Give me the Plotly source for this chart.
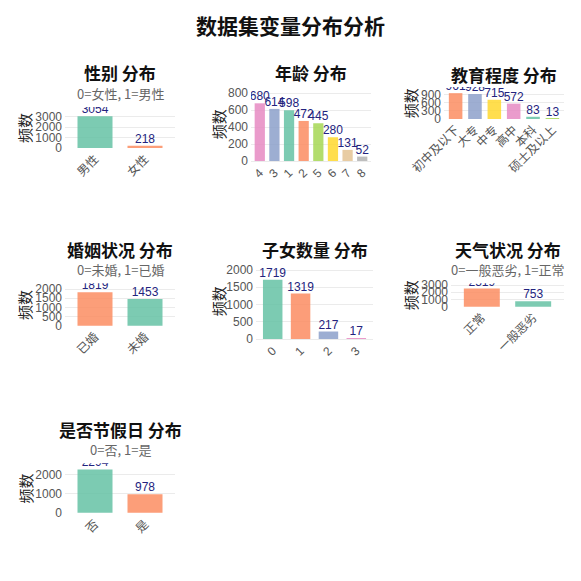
import plotly.graph_objects as go

# counts per variable
gender_cats = ["男性", "女性"]
gender_vals = [3054, 218]

age_cats = ["4", "3", "1", "2", "5", "6", "7", "8"]
age_vals = [680, 614, 598, 472, 445, 280, 131, 52]

edu_cats = ["初中及以下", "大专", "中专", "高中", "本科", "硕士及以上"]
edu_vals = [961, 928, 715, 572, 83, 13]

marital_cats = ["已婚", "未婚"]
marital_vals = [1819, 1453]

kids_cats = ["0", "1", "2", "3"]
kids_vals = [1719, 1319, 217, 17]

weather_cats = ["正常", "一般恶劣"]
weather_vals = [2519, 753]

holiday_cats = ["否", "是"]
holiday_vals = [2294, 978]

W = H = 581
set2 = ["#66C2A5", "#FC8D62", "#8DA0CB", "#E78AC3", "#A6D854", "#FFD92F", "#E5C494", "#B3B3B3"]
SANS = "Liberation Sans, Noto Sans CJK SC, sans-serif"
CJK = "Noto Sans CJK SC, sans-serif"

# name, cats, vals, colour idx, subtitle, left px, right px, zero px, top px, top value, dtick
panels = [
    ("性别", gender_cats, gender_vals, [0, 1], "0=女性, 1=男性", 65, 175, 148, 107, 3950, 1000),
    ("年龄", age_cats, age_vals, [3, 2, 0, 1, 4, 5, 6, 7], None, 251, 371, 161, 86, 884, 200),
    ("教育程度", edu_cats, edu_vals, [1, 2, 5, 3, 0, 4], None, 444, 564, 119, 87, 1190, 300),
    ("婚姻状况", marital_cats, marital_vals, [1, 0], "0=未婚, 1=已婚", 65, 175, 325.7, 283.3, 2311, 500),
    ("子女数量", kids_cats, kids_vals, [0, 1, 2, 3], None, 256, 373, 339, 262, 2232, 500),
    ("天气状况", weather_cats, weather_vals, [1, 0], "0=一般恶劣, 1=正常", 451, 564, 306.7, 283.3, 3241, 1000),
    ("是否节假日", holiday_cats, holiday_vals, [0, 1], "0=否, 1=是", 65, 175, 512.7, 463.3, 2617, 1000),
]


def note(text, x, y, size, color, bold=False, angle=0, family=CJK):
    return dict(text="<b>%s</b>" % text if bold else text, x=x / W, y=1 - y / H, xref="paper", yref="paper",
                xanchor="center", yanchor="middle", textangle=angle, showarrow=False,
                font=dict(family=family, size=size, color=color))


fig = go.Figure()
annotations = [note("数据集变量分布分析", 290, 25, 21, "#111111", bold=True)]
layout = {}

for i, (name, cats, vals, cidx, sub, left, right, y0, top, topval, dtick) in enumerate(panels):
    k = "" if i == 0 else str(i + 1)
    scale = (y0 - top) / topval
    lo = -0.02 * topval
    bottom = y0 - lo * scale
    fig.add_trace(go.Bar(x=cats, y=vals, marker=dict(color=[set2[c] for c in cidx], line_width=0),
                         opacity=0.85, xaxis="x" + k, yaxis="y" + k, showlegend=False))
    fig.add_trace(go.Scatter(x=cats, y=vals, mode="text", text=[str(v) for v in vals],
                             textposition="top center", cliponaxis=True,
                             textfont=dict(family=SANS, size=12, color="#23237e"),
                             xaxis="x" + k, yaxis="y" + k, showlegend=False))
    layout["xaxis" + k] = dict(domain=[left / W, right / W], anchor="y" + k, type="category",
                               range=[-0.6, len(cats) - 0.4], tickangle=-45, showgrid=False,
                               tickmode="array", tickvals=cats, ticktext=cats, automargin=False,
                               tickfont=dict(family=SANS, size=12, color="#555555"), ticks="")
    layout["yaxis" + k] = dict(domain=[1 - bottom / H, 1 - top / H], anchor="x" + k, range=[lo, topval],
                               dtick=dtick, showgrid=True, gridcolor="#EBEBEB", zeroline=False,
                               tickfont=dict(family=SANS, size=12, color="#555555"), ticks="",
                               ticklabelstandoff=2, automargin=False)
    cx = (left + right) / 2
    ty = top - 34 if sub else top - 13
    annotations.append(note("%s 分布" % name, cx, ty, 17, "#111111", bold=True))
    if sub:
        annotations.append(note(sub, cx, ty + 20, 13, "#666666"))
    ytx = {65: 25, 251: 218, 256: 218, 444: 410, 451: 410}[left]
    annotations.append(note("频数", ytx, (top + bottom) / 2, 15, "#222222", angle=-90))

fig.update_layout(width=W, height=H, margin=dict(l=0, r=0, t=0, b=0, autoexpand=False),
                  plot_bgcolor="white", paper_bgcolor="white", bargap=0.3,
                  annotations=annotations, **layout)
fig.write_html("out.html", config={"displayModeBar": False},
               post_script="document.body.style.margin='0';")
